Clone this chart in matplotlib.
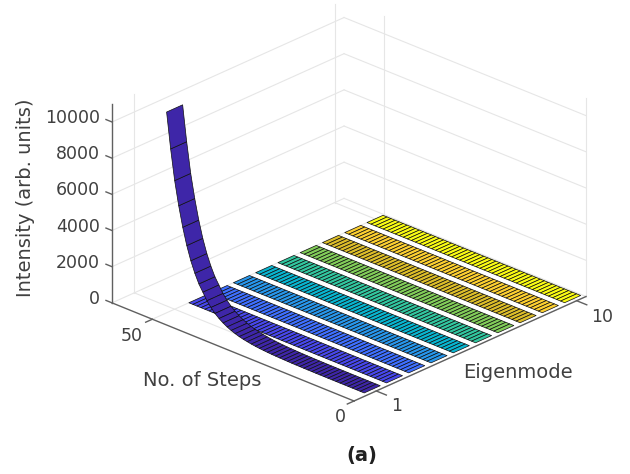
import matplotlib
matplotlib.use('Agg')
import matplotlib.pyplot as plt
import numpy as np
from mpl_toolkits.mplot3d import proj3d

# Dados
modes = [1, 2, 3, 4, 5, 6, 7, 8, 9, 10]
steps = list(range(1, 51))
# intensidade do modo 1, do passo 1 ao passo 50
mode1 = [0, 0, 0, 0, 1, 1, 1, 1, 1, 2,
         2, 3, 4, 5, 7, 9, 12, 15, 19, 25,
         31, 39, 48, 59, 74, 92, 112, 138, 170, 210,
         255, 310, 385, 470, 575, 705, 860, 1050, 1290, 1570,
         1950, 2320, 2820, 3420, 4170, 5090, 6190, 7490, 9150, 11100]
other_modes = [0] * 50
colors = ['#3e26a8', '#4747eb', '#3e6fff', '#2796eb', '#08b5d0',
          '#31c69f', '#81cc59', '#dcbd29', '#fccf30', '#f9fb14']
xticks = [1, 10]
yticks = [0, 50]
zticks = [0, 2000, 4000, 6000, 8000, 10000]

xlim = (0, 10.42)
ylim = (0, 60)
zlim = (0, 11000)
bar_w = 0.72
grid_c = '#e6e6e6'
axis_c = '#606060'
text_c = '#404040'

fig = plt.figure(figsize=(6.3, 4.74), dpi=100)
ax = fig.add_axes([0, 0, 1, 1], projection='3d', proj_type='ortho', computed_zorder=False)
ax.view_init(elev=25.3, azim=-136.5)
ax.set_box_aspect((338.5, 335, 221))
ax.set_xlim(*xlim)
ax.set_ylim(*ylim)
ax.set_zlim(*zlim)
ax.set_axis_off()


def line(xs, ys, zs, c=grid_c, lw=0.8):
    ax.plot(xs, ys, zs, color=c, lw=lw, zorder=1, clip_on=False)


# paredes e chao
for z in zticks:
    line(xlim, [ylim[1]] * 2, [z, z])
    line([xlim[1]] * 2, ylim, [z, z])
for x in xticks:
    line([x, x], [ylim[1]] * 2, zlim)
    line([x, x], ylim, [0, 0])
for y in yticks:
    line([xlim[1]] * 2, [y, y], zlim)
    line(xlim, [y, y], [0, 0])

# eixos
line(xlim, [0, 0], [0, 0], axis_c, 1)
line([0, 0], ylim, [0, 0], axis_c, 1)
line([0, 0], [ylim[1]] * 2, zlim, axis_c, 1)
for x in xticks:
    line([x, x], [0, -2.5], [0, 0], axis_c, 1)
for y in yticks:
    line([0, -0.3], [y, y], [0, 0], axis_c, 1)
for z in zticks:
    line([0, 0], [ylim[1], ylim[1] + 1.5], [z, z], axis_c, 1)

# faixas, da mais distante para a mais proxima
Y = np.array(steps, dtype=float)
for i in range(len(modes) - 1, -1, -1):
    m = modes[i]
    vals = mode1 if i == 0 else other_modes
    X, YY = np.meshgrid([m - bar_w / 2, m + bar_w / 2], Y)
    Z = np.column_stack([vals, vals]).astype(float)
    ax.plot_surface(X, YY, Z, color=colors[i], edgecolor='#101010', linewidth=0.5,
                    rstride=1, cstride=1, shade=False, zorder=10 + len(modes) - i)

fig.text(26 / 630, 1 - 198 / 474, 'Intensity (arb. units)', rotation=90, ha='center', va='center',
         fontsize=14, color=text_c)
fig.text(202 / 630, 1 - 380 / 474, 'No. of Steps', ha='center', va='center', fontsize=14, color=text_c)
fig.text(518 / 630, 1 - 372 / 474, 'Eigenmode', ha='center', va='center', fontsize=14, color=text_c)
fig.text(362 / 630, 1 - 456 / 474, '(a)', ha='center', va='center', fontsize=14, fontweight='bold',
         color='#202020')


def to_px(x, y, z):
    px, py, _ = proj3d.proj_transform(x, y, z, ax.get_proj())
    return ax.transData.transform((px, py))


# ajusta a posicao para os cantos cairem nos pixels da figura
w, h = 630, 474
size = 474.0
cx, cy = 315.0, 237.0
for _ in range(3):
    ax.set_position([(cx - size / 2) / w, (cy - size / 2) / h, size / w, size / h])
    fig.canvas.draw()
    left = to_px(0, ylim[1], 0)
    right = to_px(xlim[1], 0, 0)
    size *= (587 - 113) / (right[0] - left[0])
    ax.set_position([(cx - size / 2) / w, (cy - size / 2) / h, size / w, size / h])
    fig.canvas.draw()
    front = to_px(0, 0, 0)
    cx += 354 - front[0]
    cy += (474 - 401) - front[1]
ax.set_position([(cx - size / 2) / w, (cy - size / 2) / h, size / w, size / h])
fig.canvas.draw()


def tick_label(x, y, z, s, dx, dy, ha='center'):
    p = to_px(x, y, z)
    fig.text((p[0] + dx) / w, (p[1] + dy) / h, s, ha=ha, va='center', fontsize=12.5, color=text_c)


# rotulos dos ticks
for z in zticks:
    tick_label(0, ylim[1], z, str(z), -12, 4, ha='right')
tick_label(1, 0, 0, '1', 20, -15)
tick_label(10, 0, 0, '10', 25, -16)
tick_label(0, 50, 0, '50', -21, -17)
tick_label(0, 0, 0, '0', -14, -16)

fig.savefig('out.png', dpi=100)
